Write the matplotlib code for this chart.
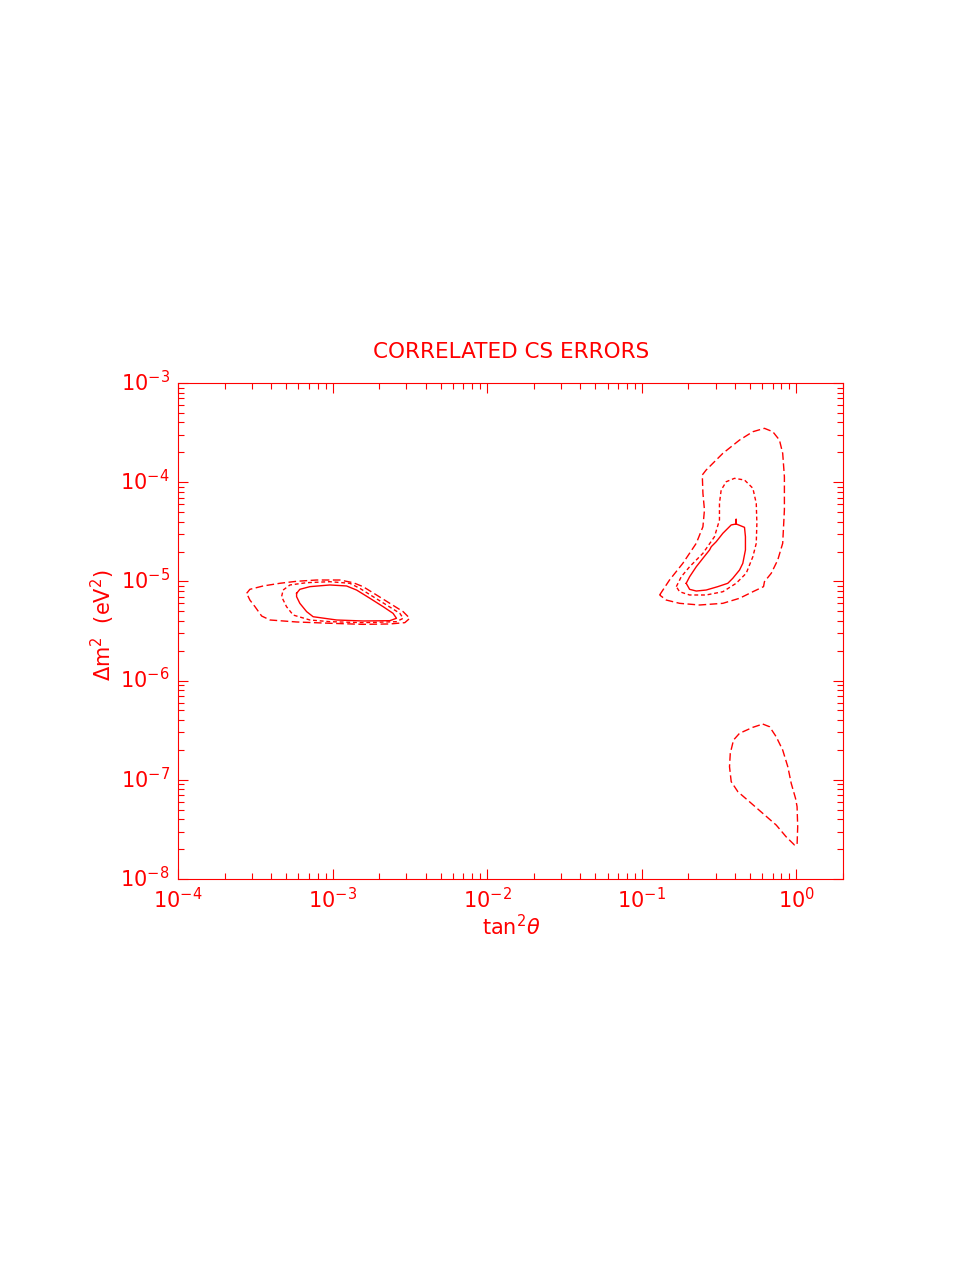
import numpy as np
import matplotlib
matplotlib.use("Agg")
import matplotlib.pyplot as plt
import matplotlib.transforms as mtransforms
from matplotlib.ticker import LogLocator, NullFormatter, FixedLocator, FixedFormatter

plt.rcParams['font.family'] = ['DejaVu Sans']
plt.rcParams['mathtext.default'] = 'regular'

RED = '#ff0000'

# contour data, as log10(tan^2 theta) and log10(dm^2 / eV^2)
# small angle region (three levels)
sma_out_x = [-3.556, -3.535, -3.449, -3.341, -3.233, -3.104, -2.953, -2.867, -2.803, -2.716, -2.630,
             -2.544, -2.501, -2.533, -2.630, -2.803, -3.018, -3.233, -3.405, -3.459, -3.502, -3.535, -3.556]
sma_out_y = [-5.120, -5.080, -5.046, -5.019, -4.999, -4.986, -4.986, -5.013, -5.053, -5.137, -5.221,
             -5.305, -5.372, -5.416, -5.429, -5.433, -5.422, -5.409, -5.389, -5.349, -5.255, -5.188, -5.120]

sma_mid_x = [-3.320, -3.276, -3.168, -3.018, -2.889, -2.824, -2.738, -2.651, -2.565, -2.544, -2.587,
             -2.803, -3.018, -3.147, -3.255, -3.298, -3.330, -3.320]
sma_mid_y = [-5.087, -5.036, -5.013, -5.003, -5.019, -5.070, -5.154, -5.238, -5.322, -5.372, -5.406,
             -5.416, -5.406, -5.389, -5.339, -5.255, -5.154, -5.087]

sma_in_x = [-3.233, -3.212, -3.147, -3.018, -2.910, -2.845, -2.759, -2.673, -2.609, -2.587, -2.630,
            -2.803, -2.974, -3.126, -3.168, -3.212, -3.233, -3.233]
sma_in_y = [-5.120, -5.080, -5.053, -5.036, -5.046, -5.087, -5.170, -5.255, -5.322, -5.372, -5.396,
            -5.399, -5.389, -5.356, -5.305, -5.221, -5.154, -5.120]

# large mixing angle region (three levels)
lma_out_x = [-0.885, -0.821, -0.735, -0.648, -0.605, -0.595, -0.605, -0.609, -0.584, -0.476, -0.368,
             -0.282, -0.207, -0.153, -0.110, -0.089, -0.078, -0.078, -0.089, -0.121, -0.163, -0.207,
             -0.213, -0.282, -0.368, -0.476, -0.627, -0.756, -0.842, -0.885]
lma_out_y = [-5.137, -4.986, -4.818, -4.616, -4.449, -4.280, -4.112, -3.927, -3.877, -3.709, -3.575,
             -3.491, -3.457, -3.491, -3.575, -3.709, -3.945, -4.280, -4.616, -4.784, -4.918, -5.003,
             -5.053, -5.104, -5.170, -5.221, -5.238, -5.221, -5.188, -5.137]

lma_mid_x = [-0.777, -0.745, -0.691, -0.605, -0.530, -0.498, -0.498, -0.487, -0.454, -0.401, -0.336,
             -0.282, -0.260, -0.256, -0.260, -0.282, -0.325, -0.390, -0.476, -0.584, -0.691, -0.756, -0.777]
lma_mid_y = [-5.053, -4.953, -4.852, -4.717, -4.549, -4.381, -4.213, -4.079, -3.995, -3.961, -3.978,
             -4.061, -4.213, -4.414, -4.616, -4.751, -4.918, -5.019, -5.104, -5.137, -5.137, -5.104, -5.053]

lma_in_x = [-0.713, -0.691, -0.648, -0.605, -0.562, -0.551, -0.519, -0.476, -0.422, -0.390, -0.390,
            -0.390, -0.336, -0.330, -0.330, -0.347, -0.368, -0.412, -0.444, -0.509, -0.584, -0.648,
            -0.691, -0.713]
lma_in_y = [-5.019, -4.953, -4.852, -4.767, -4.683, -4.650, -4.600, -4.515, -4.431, -4.421, -4.374,
            -4.421, -4.455, -4.549, -4.683, -4.818, -4.885, -4.969, -5.019, -5.053, -5.087, -5.097,
            -5.080, -5.019]

# LOW region (outer level only)
low_x = [-0.218, -0.174, -0.131, -0.089, -0.056, -0.034, -0.006, 0.004, 0.008, 0.004, -0.013,
         -0.067, -0.131, -0.218, -0.304, -0.379, -0.422, -0.433, -0.428, -0.407, -0.368, -0.282, -0.218]
low_y = [-6.438, -6.465, -6.566, -6.700, -6.868, -7.035, -7.187, -7.271, -7.473, -7.657, -7.657,
         -7.574, -7.456, -7.338, -7.221, -7.120, -7.019, -6.868, -6.733, -6.599, -6.531, -6.471, -6.438]

x_decades = [-4, -3, -2, -1, 0]
y_decades = [-8, -7, -6, -5, -4, -3]

outer_ls = (0, (5.5, 2.5))
mid_ls = (0, (2.8, 2.0))

fig = plt.figure(figsize=(9.77, 12.64), dpi=100)
ax = fig.add_axes([178 / 977, 1 - 879 / 1264, 665 / 977, 496 / 1264])

for xs, ys, ls in [(sma_out_x, sma_out_y, outer_ls), (sma_mid_x, sma_mid_y, mid_ls), (sma_in_x, sma_in_y, '-'),
                   (lma_out_x, lma_out_y, outer_ls), (lma_mid_x, lma_mid_y, mid_ls), (lma_in_x, lma_in_y, '-'),
                   (low_x, low_y, outer_ls)]:
    ax.plot(10.0 ** np.array(xs), 10.0 ** np.array(ys), color=RED, lw=1.0, linestyle=ls)

ax.set_xscale('log')
ax.set_yscale('log')
ax.set_xlim(1e-4, 2.0)
ax.set_ylim(1e-8, 1e-3)

ax.xaxis.set_major_locator(FixedLocator([10.0 ** d for d in x_decades]))
ax.xaxis.set_major_formatter(FixedFormatter(['$10^{%d}$' % d for d in x_decades]))
ax.yaxis.set_major_locator(FixedLocator([10.0 ** d for d in y_decades]))
ax.yaxis.set_major_formatter(FixedFormatter(['$10^{%d}$' % d for d in y_decades]))
ax.xaxis.set_minor_locator(LogLocator(base=10, subs=np.arange(2, 10), numticks=20))
ax.yaxis.set_minor_locator(LogLocator(base=10, subs=np.arange(2, 10), numticks=20))
ax.xaxis.set_minor_formatter(NullFormatter())
ax.yaxis.set_minor_formatter(NullFormatter())

ax.tick_params(which='both', direction='in', top=True, right=True, color=RED, width=0.8,
               labelcolor=RED, labelsize=15)
ax.tick_params(which='major', length=7.5)
ax.tick_params(which='minor', length=4.2)
ax.tick_params(axis='x', which='major', pad=6)
ax.tick_params(axis='y', which='major', pad=6)

# put the "10" of each y label on its tick, exponent above (as in the original)
shift = mtransforms.ScaledTranslation(0, -0.08, fig.dpi_scale_trans)
for lab in ax.get_yticklabels():
    lab.set_va('baseline')
    lab.set_transform(lab.get_transform() + shift)

for s in ax.spines.values():
    s.set_color(RED)
    s.set_linewidth(0.8)

fig.text(511 / 977, 1 - 358 / 1264, 'CORRELATED CS ERRORS', color=RED, fontsize=15.5,
         ha='center', va='baseline')
fig.text(511 / 977, 1 - 935 / 1264, r'tan$^2\mathit{\theta}$', color=RED, fontsize=15,
         ha='center', va='baseline')
fig.text(103 / 977, 1 - 625 / 1264, r'$\Delta$m$^2$  (eV$^2$)', color=RED, fontsize=15,
         ha='center', va='center', rotation=90)

fig.savefig('out.png', dpi=100)
